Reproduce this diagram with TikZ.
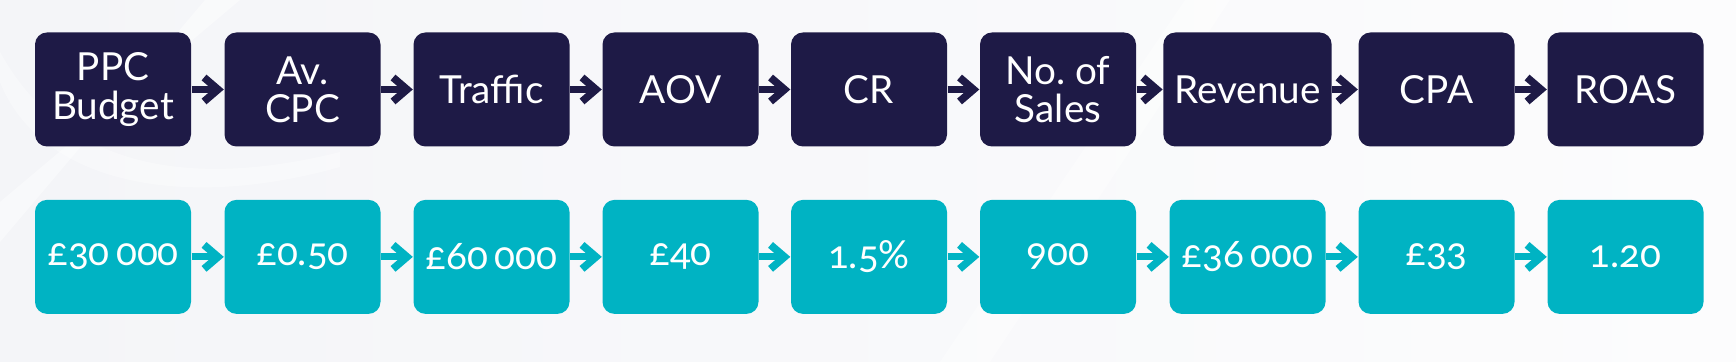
\documentclass[tikz,border=0pt]{standalone}
\usepackage{fontspec}
\setmainfont{Lato}
\newfontfamily\oldnums[Numbers=OldStyle]{Lato}
\usepackage{xcolor}
\usepackage{tikz}
\usetikzlibrary{arrows.meta,positioning}
\definecolor{navy}{HTML}{1E1A46}
\definecolor{kpiteal}{HTML}{00B3C3}
\definecolor{bggrey}{HTML}{F4F5F8}
\definecolor{bglight}{HTML}{FCFCFD}

\begin{document}
\begin{tikzpicture}[
font=\fontsize{11}{10.9}\selectfont,
node distance=0.52cm and 0.33cm,
metric/.style={rounded corners=1.2mm, minimum width=1.56cm, minimum height=1.14cm, inner xsep=1.1mm, align=center, text=white, fill=navy},
value/.style={metric, fill=kpiteal, font=\fontsize{11}{10.9}\selectfont\oldnums},
arrow/.style={-{Straight Barb[length=1.4mm,width=2.4mm,line width=0.75mm]}, line width=0.7mm}
]
% background and faint swooshes
\shade[left color=bggrey, right color=bglight] (0,0) rectangle (17.36,3.62);
\fill[white, opacity=0.45] (0,1.2) -- (0,1.6) -- (2.4,3.62) -- (2.05,3.62) -- cycle;
\fill[white, opacity=0.35] (0,3.1) .. controls (0.6,2.0) and (1.8,1.7) .. (3.4,2.1) -- (3.4,1.95) .. controls (1.8,1.5) and (0.4,1.8) .. (0,2.8) -- cycle;
\fill[white, opacity=0.4] (9.4,0) -- (9.9,0) -- (12.3,3.62) -- (11.85,3.62) -- cycle;

% top row: metrics
\node[metric] (budget) at (1.13,2.725) {PPC\\Budget};
\node[metric] (cpc) at (3.025,2.725) {Av.\\CPC};
\node[metric] (traffic) at (4.915,2.725) {Traffic};
\node[metric] (aov) at (6.805,2.725) {AOV};
\node[metric] (cr) at (8.69,2.725) {CR};
\node[metric] (sales) at (10.58,2.725) {No.\ of\\Sales};
\node[metric] (revenue) at (12.475,2.725) {Revenue};
\node[metric] (cpa) at (14.365,2.725) {CPA};
\node[metric] (roas) at (16.255,2.725) {ROAS};

% bottom row: worked values
\node[value, below=of budget] (budgetval) {£30\,000};
\node[value, below=of cpc] (cpcval) {£0.50};
\node[value, below=of traffic] (trafficval) {£60\,000};
\node[value, below=of aov] (aovval) {£40};
\node[value, below=of cr] (crval) {1.5\%};
\node[value, below=of sales] (salesval) {900};
\node[value, below=of revenue] (revenueval) {£36\,000};
\node[value, below=of cpa] (cpaval) {£33};
\node[value, below=of roas] (roasval) {1.20};

\draw[arrow, navy] (budget) -- (cpc);
\draw[arrow, navy] (cpc) -- (traffic);
\draw[arrow, navy] (traffic) -- (aov);
\draw[arrow, navy] (aov) -- (cr);
\draw[arrow, navy] (cr) -- (sales);
\draw[arrow, navy] (sales) -- (revenue);
\draw[arrow, navy] (revenue) -- (cpa);
\draw[arrow, navy] (cpa) -- (roas);

\draw[arrow, kpiteal] (budgetval) -- (cpcval);
\draw[arrow, kpiteal] (cpcval) -- (trafficval);
\draw[arrow, kpiteal] (trafficval) -- (aovval);
\draw[arrow, kpiteal] (aovval) -- (crval);
\draw[arrow, kpiteal] (crval) -- (salesval);
\draw[arrow, kpiteal] (salesval) -- (revenueval);
\draw[arrow, kpiteal] (revenueval) -- (cpaval);
\draw[arrow, kpiteal] (cpaval) -- (roasval);
\end{tikzpicture}
\end{document}
